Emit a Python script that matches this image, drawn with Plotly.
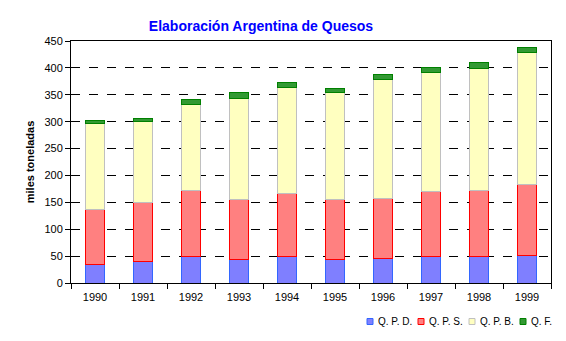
import plotly.graph_objects as go

years = ["1990", "1991", "1992", "1993", "1994", "1995", "1996", "1997", "1998", "1999"]
qpd = [35, 40.5, 48.5, 44, 49.8, 44, 46, 49.7, 49.7, 51.6]
qps = [102.6, 109.5, 122.7, 110.4, 115.8, 111.3, 111.1, 120.5, 122.3, 131.6]
qpb = [158.7, 150, 161.4, 188.6, 198, 198.1, 220.5, 220.5, 227.4, 246.2]
qf = [6.2, 5.6, 8.1, 10.7, 8.8, 7.5, 9.4, 9.3, 9.9, 9.3]

series = [
    ("Q. P. D.", qpd, "#7F7FFF", "#3366FF"),
    ("Q. P. S.", qps, "#FF8080", "#FF0000"),
    ("Q. P. B.", qpb, "#FFFFC0", "#C0C0C0"),
    ("Q. F.", qf, "#339933", "#008000"),
]

W, H = 566, 341
L, R, T, B = 71, 15, 41, 58
pw, ph = W - L - R, H - T - B


def px_x(x):
    return (x - L) / pw


def px_y(y):
    return (H - B - y) / ph


font = "Liberation Sans, Arial, sans-serif"
fig = go.Figure()
legend_x = [367, 418, 469, 520]
shapes = []
annotations = []
for (name, vals, fill, line), lx in zip(series, legend_x):
    fig.add_trace(go.Bar(
        x=years, y=vals, name=name,
        marker=dict(color=fill, line=dict(color=line, width=1)),
    ))
    shapes.append(dict(type="rect", xref="paper", yref="paper",
                       x0=px_x(lx), x1=px_x(lx + 6), y0=px_y(324.5), y1=px_y(318.5),
                       fillcolor=fill, line=dict(color=line, width=1)))
    annotations.append(dict(text=name, xref="paper", yref="paper",
                            x=px_x(lx + 9), y=px_y(321.5), xanchor="left",
                            yanchor="middle", showarrow=False,
                            font=dict(family=font, size=10, color="black")))

fig.update_layout(
    width=W, height=H,
    margin=dict(l=L, r=R, t=T, b=B),
    paper_bgcolor="white", plot_bgcolor="white",
    barmode="stack", bargap=0.6,
    font=dict(family=font, size=11, color="black"),
    title=dict(text="<b>Elaboración Argentina de Quesos</b>",
               font=dict(family=font, size=14, color="#0000FF"),
               x=261/566, xanchor="center", y=1-26/341, yanchor="middle"),
    showlegend=False,
    shapes=shapes,
    annotations=annotations,
    xaxis=dict(type="category", showline=True, linecolor="black", linewidth=1,
               mirror=True, ticks="outside", tickson="boundaries", ticklen=5,
               tickcolor="black", showgrid=False, tickfont=dict(size=11),
               ticklabelstandoff=4, automargin=False),
    yaxis=dict(range=[0, 450], dtick=50, showline=True, linecolor="black",
               linewidth=1, mirror=True, ticks="outside", ticklen=5,
               tickcolor="black", showgrid=True, gridcolor="black",
               griddash="dash", gridwidth=1, zeroline=False,
               tickfont=dict(size=11), automargin=False,
               title=dict(text="<b>miles toneladas</b>", font=dict(size=11),
                          standoff=7)),
)

fig.write_html("out.html")
